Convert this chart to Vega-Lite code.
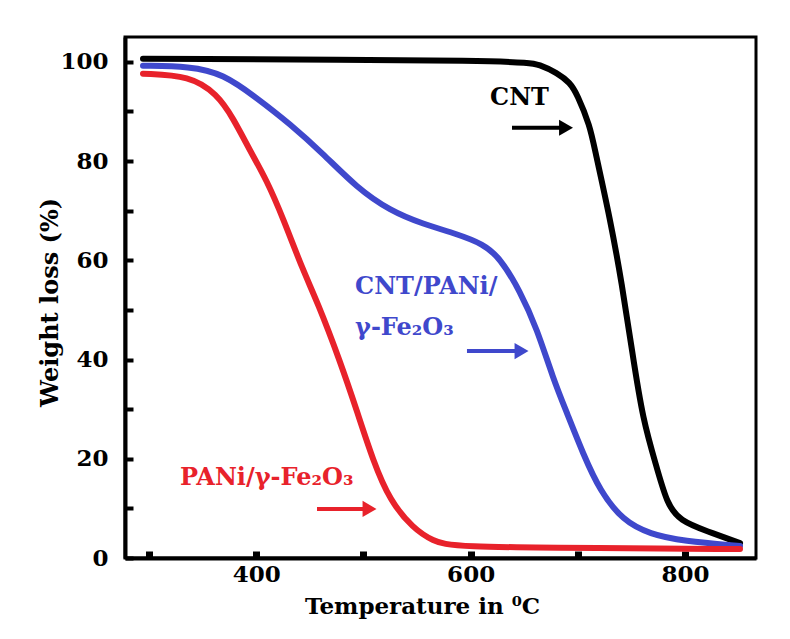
{
  "$schema": "https://vega.github.io/schema/vega-lite/v6.json",
  "width": 631,
  "height": 521,
  "autosize": {"type": "none"},
  "padding": {"left": 125, "top": 37, "right": 34, "bottom": 81},
  "background": "white",
  "config": {
    "view": {"stroke": "#000000", "strokeWidth": 3},
    "font": "DejaVu Serif, serif"
  },
  "datasets": {
    "curves": [
      {"series": "CNT", "t": 294.4, "w": 100.6},
      {"series": "CNT", "t": 648.9, "w": 100.3},
      {"series": "CNT", "t": 664.7, "w": 99.4},
      {"series": "CNT", "t": 680.6, "w": 97.8},
      {"series": "CNT", "t": 692.7, "w": 95.8},
      {"series": "CNT", "t": 699.3, "w": 93.5},
      {"series": "CNT", "t": 711.4, "w": 87.1},
      {"series": "CNT", "t": 716.0, "w": 82.1},
      {"series": "CNT", "t": 730.0, "w": 68.5},
      {"series": "CNT", "t": 741.2, "w": 55.2},
      {"series": "CNT", "t": 750.6, "w": 41.7},
      {"series": "CNT", "t": 760.8, "w": 27.6},
      {"series": "CNT", "t": 773.9, "w": 18.1},
      {"series": "CNT", "t": 783.2, "w": 10.9},
      {"series": "CNT", "t": 795.3, "w": 7.5},
      {"series": "CNT", "t": 820.5, "w": 5.4},
      {"series": "CNT", "t": 851.3, "w": 3.0},
      {"series": "CNT/PANi/γ-Fe2O3", "t": 294.4, "w": 99.2},
      {"series": "CNT/PANi/γ-Fe2O3", "t": 338.2, "w": 99.1},
      {"series": "CNT/PANi/γ-Fe2O3", "t": 369.0, "w": 97.6},
      {"series": "CNT/PANi/γ-Fe2O3", "t": 400.7, "w": 92.7},
      {"series": "CNT/PANi/γ-Fe2O3", "t": 431.5, "w": 87.5},
      {"series": "CNT/PANi/γ-Fe2O3", "t": 462.3, "w": 81.5},
      {"series": "CNT/PANi/γ-Fe2O3", "t": 494.0, "w": 74.6},
      {"series": "CNT/PANi/γ-Fe2O3", "t": 524.8, "w": 70.0},
      {"series": "CNT/PANi/γ-Fe2O3", "t": 555.6, "w": 67.3},
      {"series": "CNT/PANi/γ-Fe2O3", "t": 587.3, "w": 65.3},
      {"series": "CNT/PANi/γ-Fe2O3", "t": 611.6, "w": 63.3},
      {"series": "CNT/PANi/γ-Fe2O3", "t": 627.4, "w": 60.5},
      {"series": "CNT/PANi/γ-Fe2O3", "t": 646.1, "w": 53.8},
      {"series": "CNT/PANi/γ-Fe2O3", "t": 661.9, "w": 46.2},
      {"series": "CNT/PANi/γ-Fe2O3", "t": 676.9, "w": 36.2},
      {"series": "CNT/PANi/γ-Fe2O3", "t": 689.9, "w": 29.2},
      {"series": "CNT/PANi/γ-Fe2O3", "t": 704.9, "w": 21.0},
      {"series": "CNT/PANi/γ-Fe2O3", "t": 720.7, "w": 13.5},
      {"series": "CNT/PANi/γ-Fe2O3", "t": 742.2, "w": 7.5},
      {"series": "CNT/PANi/γ-Fe2O3", "t": 767.4, "w": 4.8},
      {"series": "CNT/PANi/γ-Fe2O3", "t": 798.1, "w": 3.4},
      {"series": "CNT/PANi/γ-Fe2O3", "t": 851.3, "w": 2.4},
      {"series": "PANi/γ-Fe2O3", "t": 294.4, "w": 97.6},
      {"series": "PANi/γ-Fe2O3", "t": 338.2, "w": 97.2},
      {"series": "PANi/γ-Fe2O3", "t": 363.4, "w": 93.5},
      {"series": "PANi/γ-Fe2O3", "t": 378.4, "w": 88.7},
      {"series": "PANi/γ-Fe2O3", "t": 394.2, "w": 82.1},
      {"series": "PANi/γ-Fe2O3", "t": 410.1, "w": 76.0},
      {"series": "PANi/γ-Fe2O3", "t": 425.0, "w": 68.5},
      {"series": "PANi/γ-Fe2O3", "t": 443.7, "w": 57.9},
      {"series": "PANi/γ-Fe2O3", "t": 456.7, "w": 51.8},
      {"series": "PANi/γ-Fe2O3", "t": 478.2, "w": 39.7},
      {"series": "PANi/γ-Fe2O3", "t": 494.0, "w": 29.6},
      {"series": "PANi/γ-Fe2O3", "t": 509.0, "w": 19.6},
      {"series": "PANi/γ-Fe2O3", "t": 524.8, "w": 11.5},
      {"series": "PANi/γ-Fe2O3", "t": 546.3, "w": 6.0},
      {"series": "PANi/γ-Fe2O3", "t": 565.0, "w": 3.4},
      {"series": "PANi/γ-Fe2O3", "t": 583.6, "w": 2.2},
      {"series": "PANi/γ-Fe2O3", "t": 720.7, "w": 2.0},
      {"series": "PANi/γ-Fe2O3", "t": 851.3, "w": 1.8}
    ],
    "arrows": [
      {"series": "CNT", "tail": 638.6, "head": 689.0, "w": 86.7},
      {"series": "CNT/PANi/γ-Fe2O3", "tail": 596.6, "head": 647.5, "w": 41.7},
      {"series": "PANi/γ-Fe2O3", "tail": 456.7, "head": 505.7, "w": 9.9}
    ],
    "labels": [
      {"series": "CNT", "label": "CNT", "t": 618.1, "w": 92.7},
      {"series": "CNT/PANi/γ-Fe2O3", "label": "CNT/PANi/", "t": 492.2, "w": 54.6},
      {"series": "CNT/PANi/γ-Fe2O3", "label": "γ-Fe₂O₃", "t": 492.2, "w": 46.4},
      {"series": "PANi/γ-Fe2O3", "label": "PANi/γ-Fe₂O₃", "t": 328.9, "w": 16.1}
    ]
  },
  "layer": [
    {
      "data": {"name": "curves"},
      "mark": {"type": "line", "interpolate": "basis", "strokeWidth": 6, "strokeCap": "round", "clip": true},
      "encoding": {
        "x": {
          "field": "t", "type": "quantitative",
          "scale": {"domain": [277.6, 866.2], "nice": false, "zero": false},
          "axis": {
            "title": "Temperature in ⁰C",
            "values": [300, 400, 500, 600, 700, 800],
            "labelExpr": "datum.value % 200 == 0 ? datum.label : ''",
            "grid": false,
            "domainColor": "#000000", "domainWidth": 4,
            "tickColor": "#000000", "tickWidth": 7, "tickSize": -7,
            "labelFont": "DejaVu Serif, serif", "labelFontWeight": "bold", "labelFontSize": 23, "labelColor": "#000000",
            "labelPadding": 12, "labelBaseline": "top",
            "titleFont": "DejaVu Serif, serif", "titleFontWeight": "bold", "titleFontSize": 23, "titleColor": "#000000",
            "titleX": 297, "titleY": 55, "titleAlign": "center", "titleBaseline": "alphabetic"
          }
        },
        "y": {
          "field": "w", "type": "quantitative",
          "scale": {"domain": [0, 105], "nice": false},
          "axis": {
            "title": "Weight loss (%)",
            "values": [0, 10, 20, 30, 40, 50, 60, 70, 80, 90, 100],
            "labelExpr": "datum.value % 20 == 0 ? datum.label : ''",
            "grid": false,
            "domainColor": "#000000", "domainWidth": 4,
            "tickColor": "#000000", "tickWidth": 4, "tickSize": -8,
            "labelFont": "DejaVu Serif, serif", "labelFontWeight": "bold", "labelFontSize": 23, "labelColor": "#000000",
            "labelPadding": 25,
            "titleFont": "DejaVu Serif, serif", "titleFontWeight": "bold", "titleFontSize": 24, "titleColor": "#000000",
            "titleX": -75, "titleY": 265, "titleAlign": "center", "titleBaseline": "middle", "titleAngle": -90
          }
        },
        "color": {
          "field": "series", "type": "nominal",
          "scale": {"domain": ["CNT", "CNT/PANi/γ-Fe2O3", "PANi/γ-Fe2O3"], "range": ["#000000", "#3f48cc", "#e8222b"]},
          "legend": null
        },
        "order": {"field": "t", "type": "quantitative"}
      }
    },
    {
      "data": {"name": "arrows"},
      "mark": {"type": "rule", "strokeWidth": 4},
      "encoding": {
        "x": {"field": "tail", "type": "quantitative"},
        "x2": {"field": "head"},
        "y": {"field": "w", "type": "quantitative"},
        "color": {"field": "series", "type": "nominal", "legend": null}
      }
    },
    {
      "data": {"name": "arrows"},
      "mark": {"type": "point", "shape": "triangle-right", "filled": true, "size": 260, "opacity": 1},
      "encoding": {
        "x": {"field": "head", "type": "quantitative"},
        "y": {"field": "w", "type": "quantitative"},
        "color": {"field": "series", "type": "nominal", "legend": null}
      }
    },
    {
      "data": {"name": "labels"},
      "mark": {"type": "text", "align": "left", "baseline": "middle", "font": "DejaVu Serif, serif", "fontWeight": "bold", "fontSize": 24},
      "encoding": {
        "x": {"field": "t", "type": "quantitative"},
        "y": {"field": "w", "type": "quantitative"},
        "text": {"field": "label"},
        "color": {"field": "series", "type": "nominal", "legend": null}
      }
    }
  ]
}
